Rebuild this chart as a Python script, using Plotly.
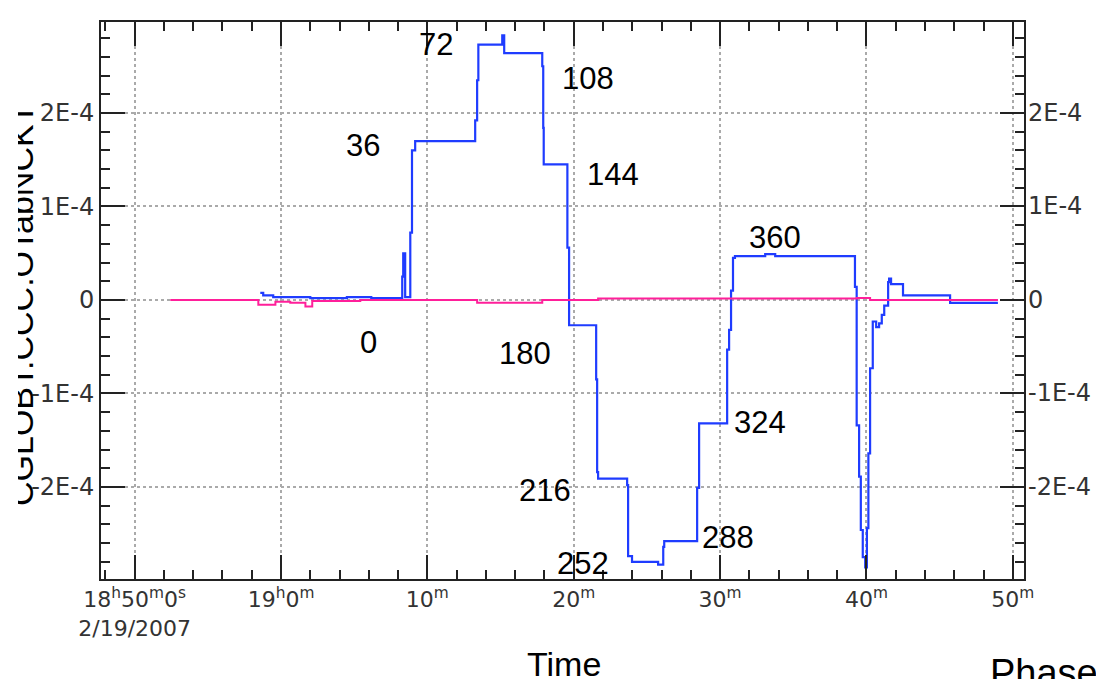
import plotly.graph_objects as go

DAY = "2007-02-19 "

# ---- data ----
blue_time = ["18:58:35", "18:58:47", "18:59:28", "19:02:00", "19:04:30", "19:06:10", "19:08:17",
             "19:08:21", "19:08:29", "19:08:50", "19:08:57", "19:09:10", "19:13:16", "19:13:24",
             "19:13:29", "19:15:07", "19:15:15", "19:17:51", "19:17:55", "19:17:57", "19:19:34",
             "19:19:41", "19:21:32", "19:21:36", "19:21:40", "19:23:39", "19:23:43", "19:23:59",
             "19:25:46", "19:26:07", "19:26:11", "19:28:26", "19:28:34", "19:30:29", "19:30:37",
             "19:30:45", "19:30:53", "19:31:01", "19:33:05", "19:33:46", "19:39:13", "19:39:20",
             "19:39:30", "19:39:37", "19:39:45", "19:39:55", "19:40:02", "19:40:08", "19:40:15",
             "19:40:26", "19:40:40", "19:40:52", "19:41:03", "19:41:13", "19:41:29", "19:41:33",
             "19:41:41", "19:42:30", "19:45:43", "19:48:59"]
blue_val = [0.075e-4, 0.05e-4, 0.03e-4, 0.02e-4, 0.03e-4, 0.02e-4, 0.25e-4,
            0.50e-4, 0.03e-4, 0.72e-4, 1.60e-4, 1.70e-4, 1.92e-4, 2.35e-4,
            2.73e-4, 2.83e-4, 2.64e-4, 2.50e-4, 1.84e-4, 1.45e-4, 0.56e-4,
            -0.27e-4, -0.85e-4, -1.84e-4, -1.91e-4, -1.98e-4, -2.74e-4, -2.80e-4,
            -2.83e-4, -2.64e-4, -2.58e-4, -2.01e-4, -1.32e-4, -0.53e-4, -0.32e-4,
            0.10e-4, 0.45e-4, 0.47e-4, 0.49e-4, 0.47e-4, 0.14e-4, -1.34e-4,
            -1.89e-4, -2.46e-4, -2.75e-4, -2.86e-4, -2.44e-4, -1.64e-4, -0.73e-4,
            -0.23e-4, -0.29e-4, -0.25e-4, -0.16e-4, -0.06e-4, 0.19e-4, 0.23e-4,
            0.17e-4, 0.05e-4, -0.03e-4, -0.03e-4]

pink_time = ["18:52:26", "18:58:27", "18:59:37", "19:00:38", "19:01:40", "19:02:08", "19:05:25",
             "19:13:24", "19:17:51", "19:21:40", "19:39:21", "19:40:15", "19:48:59"]
pink_val = [0.0, -0.05e-4, -0.02e-4, -0.03e-4, -0.07e-4, -0.01e-4, 0.0,
            -0.03e-4, 0.0, 0.015e-4, 0.02e-4, 0.0, 0.0]

x_tick_times = ["18:50:00", "19:00:00", "19:10:00", "19:20:00", "19:30:00", "19:40:00", "19:50:00"]
x_tick_text = ["18<sup>h</sup>50<sup>m</sup>0<sup>s</sup><br>2/19/2007", "19<sup>h</sup>0<sup>m</sup>",
               "10<sup>m</sup>", "20<sup>m</sup>", "30<sup>m</sup>", "40<sup>m</sup>", "50<sup>m</sup>"]
y_tick_vals = [-2e-4, -1e-4, 0, 1e-4, 2e-4]
y_tick_text = ["-2E-4", "-1E-4", "0", "1E-4", "2E-4"]

phase_labels = ["0", "36", "72", "108", "144", "180", "216", "252", "288", "324", "360"]
phase_px = [(368, 342), (363, 145), (436, 45), (588, 78), (613, 175), (525, 353),
            (545, 490), (583, 563), (728, 537), (760, 422), (775, 238)]

x_range = ["2007-02-19 18:47:42", "2007-02-19 19:50:46"]
y_range = [-2.984e-4, 2.973e-4]

# ---- layout geometry ----
W, H = 1096, 679
L, R, T, B = 101, 1024, 22, 579
FONT = "Liberation Sans, Arial, sans-serif"
TICKFONT = "DejaVu Sans, sans-serif"


def px_to_paper(px, py):
    return (px - L) / (R - L), (B - py) / (B - T)


fig = go.Figure()
fig.add_trace(go.Scatter(x=[DAY + t for t in blue_time], y=blue_val, mode="lines",
                         line=dict(color="#1f3cff", width=2.2, shape="hv"), showlegend=False))
fig.add_trace(go.Scatter(x=[DAY + t for t in pink_time], y=pink_val, mode="lines",
                         line=dict(color="#ff1f9a", width=2, shape="hv"), showlegend=False))

xtickfont = dict(family=TICKFONT, size=22, color="#333333")
ytickfont = dict(family=TICKFONT, size=24, color="#333333")

fig.update_layout(
    width=W, height=H,
    margin=dict(l=L, r=W - R, t=T, b=H - B, autoexpand=False),
    paper_bgcolor="white", plot_bgcolor="white",
    xaxis=dict(
        type="date", range=x_range,
        tickmode="array", tickvals=[DAY + t for t in x_tick_times], ticktext=x_tick_text,
        ticks="inside", ticklen=24, tickwidth=2, tickcolor="#222",
        showline=True, linecolor="#222", linewidth=2, mirror="allticks",
        showgrid=True, gridcolor="#aaaaaa", gridwidth=1.5, griddash="3px,3px",
        zeroline=False, tickfont=xtickfont, tickangle=0, automargin=False,
        minor=dict(ticks="inside", ticklen=9, tickwidth=2, tickcolor="#222",
                   tick0=DAY + "18:48:00", dtick=120000, showgrid=False),
    ),
    yaxis=dict(
        range=y_range,
        tickmode="array", tickvals=y_tick_vals, ticktext=y_tick_text,
        ticks="inside", ticklen=24, tickwidth=2, tickcolor="#222",
        showline=True, linecolor="#222", linewidth=2, mirror="allticks",
        showgrid=True, gridcolor="#aaaaaa", gridwidth=1.5, griddash="3px,3px",
        zeroline=False, tickfont=ytickfont, automargin=False,
        minor=dict(ticks="inside", ticklen=9, tickwidth=2, tickcolor="#222",
                   tick0=0, dtick=2e-5, showgrid=False),
    ),
)

annotations = []
# right-hand tick labels (mirror of the left axis)
for v, txt in zip(y_tick_vals, y_tick_text):
    annotations.append(dict(text=txt, x=1.0, y=v, xref="paper", yref="y", showarrow=False,
                            xanchor="left", yanchor="middle", xshift=2, font=ytickfont))

for lab, (px, py) in zip(phase_labels, phase_px):
    ax, ay = px_to_paper(px, py)
    annotations.append(dict(text=lab, x=ax, y=ay, xref="paper", yref="paper", showarrow=False,
                            xanchor="center", yanchor="middle",
                            font=dict(family=FONT, size=31, color="black")))

tx, ty = px_to_paper(564, 664)
annotations.append(dict(text="Time", x=tx, y=ty, xref="paper", yref="paper", showarrow=False,
                        xanchor="center", yanchor="middle",
                        font=dict(family=FONT, size=34, color="black")))
phx, phy = px_to_paper(988, 650)
annotations.append(dict(text="Phase", x=phx, y=phy, xref="paper", yref="paper", showarrow=False,
                        xanchor="left", yanchor="top",
                        font=dict(family=FONT, size=38, color="black")))
# clipped vertical axis title (only its lower half is visible in the reference)
yx, yy = px_to_paper(21, 305)
annotations.append(dict(text="CGLOBT.CCC.OTabNCKT", x=yx, y=yy, xref="paper", yref="paper",
                        showarrow=False, textangle=-90, xanchor="center", yanchor="middle",
                        font=dict(family=FONT, size=34, color="black")))
# white mask that cuts the title like in the reference
mx, my = px_to_paper(0, 305)
annotations.append(dict(text=" ", x=mx, y=my, xref="paper", yref="paper", showarrow=False,
                        xanchor="left", yanchor="middle", width=18, height=520,
                        bgcolor="white", borderpad=0, borderwidth=0,
                        font=dict(family=FONT, size=10, color="white")))
fig.update_layout(annotations=annotations)

fig.write_html("out.html")
